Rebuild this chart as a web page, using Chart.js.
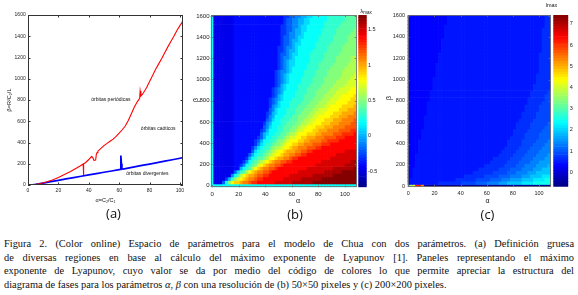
<!DOCTYPE html>
<html lang="es"><head><meta charset="utf-8">
<script src="https://cdn.jsdelivr.net/npm/chart.js@4.4.1/dist/chart.umd.min.js"></script>
<style>
html,body{margin:0;padding:0;background:#fff;}
#fig{position:relative;width:578px;height:295px;overflow:hidden;background:#fff;}
canvas{position:absolute;top:0;}
.t{position:absolute;white-space:nowrap;color:#111;transform:translate(-50%,-50%);font-family:'Liberation Sans','DejaVu Sans',sans-serif;line-height:1;}
.pl{font-family:'Open Sans',sans-serif;font-size:13px;line-height:16px;}
.ax{font-size:7px;}
.cbl{font-size:6px;}
.cbl sub{font-size:4.5px;vertical-align:-1px;}
#cap{position:absolute;left:4px;top:237px;width:570px;font-family:'Liberation Serif',serif;font-size:10.4px;line-height:13.67px;color:#111;}
#cap div{text-align:justify;text-align-last:justify;}
#cap div.last{text-align-last:left;}
</style></head><body>
<div id="fig">
<canvas id="chartA" width="190" height="210" style="left:0px"></canvas>
<canvas id="chartB" width="168" height="210" style="left:190px"></canvas>
<canvas id="barB" width="36" height="210" style="left:356px"></canvas>
<canvas id="chartC" width="172" height="210" style="left:380px"></canvas>
<canvas id="barC" width="27" height="210" style="left:551px"></canvas>
<div class="t pl" style="left:113.5px;top:212.5px">(a)</div>
<div class="t pl" style="left:295px;top:214px">(b)</div>
<div class="t pl" style="left:487.5px;top:213.5px">(c)</div>
<div class="t ax" style="left:298px;top:200px">α</div>
<div class="t ax" style="left:195px;top:100px;transform:translate(-50%,-50%) rotate(-90deg)">β</div>
<div class="t ax" style="left:487.5px;top:200px">α</div>
<div class="t ax" style="left:388px;top:98px;transform:translate(-50%,-50%) rotate(-90deg)">β</div>
<div class="t cbl" style="left:366px;top:12px">λ<sub>max</sub></div>
<div class="t cbl" style="left:551.5px;top:6px;font-size:5.5px">lmax</div>
<div id="cap">
<div>Figura 2. (Color online) Espacio de parámetros para el modelo de Chua con dos parámetros. (a) Definición gruesa</div>
<div>de diversas regiones en base al cálculo del máximo exponente de Lyapunov [1]. Paneles representando el máximo</div>
<div>exponente de Lyapunov, cuyo valor se da por medio del código de colores lo que permite apreciar la estructura del</div>
<div class="last">diagrama de fases para los parámetros <i>α</i>, <i>β</i> con una resolución de (b) 50×50 pixeles y (c) 200×200 pixeles.</div>
</div>
</div>
<script>
// ---------- tick labels ----------
const alphaTicks = [0,20,40,60,80,100];
const betaTicks = [0,200,400,600,800,1000,1200,1400,1600];
const bBarTicks = [-0.5,0,0.5,1,1.5];
const cBarTicks = [0,1,2,3,4,5,6,7];

// ---------- shared grid (50 x 50) ----------
const gridAlpha = [0,2.2,4.4,6.6,8.8,11,13.2,15.4,17.6,19.8,22,24.2,26.4,28.6,30.8,33,35.2,37.4,39.6,41.8,44,46.2,48.4,50.6,52.8,55,57.2,59.4,61.6,63.8,66,68.2,70.4,72.6,74.8,77,79.2,81.4,83.6,85.8,88,90.2,92.4,94.6,96.8,99,101.2,103.4,105.6,107.8];
const gridBeta = [0,32.7,65.3,98,130.6,163.3,195.9,228.6,261.2,293.9,326.5,359.2,391.8,424.5,457.1,489.8,522.4,555.1,587.8,620.4,653.1,685.7,718.4,751,783.7,816.3,849,881.6,914.3,946.9,979.6,1012.2,1044.9,1077.6,1110.2,1142.9,1175.5,1208.2,1240.8,1273.5,1306.1,1338.8,1371.4,1404.1,1436.7,1469.4,1502,1534.7,1567.3,1600];

// ---------- panel (a) ----------
const redAlpha = [2,4,6,8,10,12,14,16,18,20,22,24,26,28,30,32,34,36.3,36.5,36.7,38,40,41.8,42.5,43.4,44.5,45,45.5,46,48,50,52,54,56,58,60,62,64,66,68,70,72,73.5,73.8,74.3,75,76,78,80,82,84,86,88,90,92,94,96,98,100,102];
const redBeta = [0,3,8,14,21,29,38,47,58,70,84,98,113,128,144,160,177,198,95,200,212,240,268,262,232,235,290,305,318,345,370,392,412,432,458,488,520,555,608,670,735,785,815,885,838,848,868,915,975,1030,1090,1140,1190,1245,1300,1350,1400,1455,1500,1545];
const blueAlpha = [2,5,10,15,20,25,30,35,40,45,50,55,60,60.8,61.1,61.5,61.8,62.5,65,70,75,80,85,90,95,100,102];
const blueBeta = [0,6,18,31,44,57,69,82,95,107,120,132,145,147,278,200,152,150,157,170,184,197,210,224,238,252,258];
const noteText = ['órbitas periódicas','órbitas caóticos','órbitas divergentes'];
const noteAlpha = [54.5,85.7,78.6];
const noteBeta = [803,530,105];

// ---------- panel (b): lambda_max, 50x50, run-length rows from beta=0 upward ----------
const bKeys = 'cdefghijklmnopqrstuvwxy';
const bVals = [-0.47,-0.4,-0.3,-0.2,-0.1,0,0.1,0.2,0.3,0.4,0.5,0.6,0.7,0.8,0.9,1.0,1.1,1.2,1.3,1.4,1.5,1.6,1.7];
const bRange = [-0.73,1.71];
const bRows = [
'j50',
'j1c3f1j1m1p1q2r1s2t1u2v6w6x7y15',
'j1c4e1h1k1m1o1p1q1r1s2t1u2v7w6x7y12',
'j1c6g1j1l1n1p1q1r2s1t2u2v7w8x7y8',
'j1c7f1i1k1l1n1p1q1r1s2t2u1v9w9x6y5',
'j1c7d2h1j1k1l1n1p1q1r1s2t2u1v10w9x7y1',
'j1c7d2e1g1j1k1l1m1o1p1q1r1s2t2u1v11w10x4',
'j1c7d3e1g1j1k1l1m1n1o1p1q1r1s2t2u2v10w10x2',
'j1c7d4e1h1j1k1l2m1n1p2q1r2s2t1u2v11w9',
'j1c7d5f1h1j1k2l1m1n1o1p2q1r2s2t2u2v10w7',
'j1c7d6f1i1j1k2l1m1n1o1p2q1r3s2t2u2v11w4',
'j1c7d6e1g1i1j1k2l1m1n2o1p2q1r2s3t3u2v12',
'j1c7d7e1g1i1j1k2l1m2n1o1p2q2r2s3t3u3v9',
'j1c7d7e1f1h1j2k2l1m2n1o1p3q2r2s4t2u4v6',
'j1c7d8e1f1h1j2k2l2m1n1o2p2q2r3s3t4u3v4',
'j1c7d9f1h1i1j2k2l2m1n2o1p3q3r2s4t3u4v1',
'j1c7d9e1f1h1j3k2l2m2n1o2p3q2r3s4t4u2',
'j1c7d10f1g1i1j2k2l3m2n1o2p3q3r3s4t4',
'j1c7d10e1g1h1j3k2l3m2n2o2p3q3r3s4t2',
'j1c7d11f1g1i1j2k3l3m2n2o2p3q3r3s4t1',
'j1c7d11e1g1h1j3k3l2m3n2o2p4q3r3s3',
'j1c7d11e1f1h1i1j3k3l2m3n2o3p3q3r4s1',
'j1c7d12f1g1i1j3k3l3m3n2o3p4q3r3',
'j1c7d12e1g1h1i1j3k3l3m3n3o2p4q4r1',
'j1c7d12e1f1g1i1j3k4l3m3n3o3p4q3',
'j1c7d12e1f1g1h1i1j3k4l3m3n3o3p4q2',
'j1c7d13e1f1h1i1j4k3l4m3n3o3p4q1',
'j1c7d13e1f1g1h1j4k4l3m4n3o4p3',
'j1c7d13e1f1g1h1i1j4k3l4m4n3o4p2',
'j1c7d14e1f1h1i1j4k4l4m4n4o4',
'j1c7d14e1f1g1h1i1j4k4l4m4n4o3',
'j1c7d14e1f1g1h1i1j4k4l4m5n4o2',
'j1c7d14e1f1g1h1i1j5k4l4m5n4o1',
'j1c7d14e1f1g2h1i1j4k4l4m5n5',
'j1c7d15e1f1g1h1i1j5k4l4m5n4',
'j1c7d15e1f1g1h1i2j4k4l5m5n3',
'j1c7d15e1f1g1h1i2j5k4l5m5n2',
'j1c7d15e1f1g2h1i1j5k5l4m5n2',
'j1c7d15e1f2g1h1i2j4k5l5m6',
'j1c7d15e2f1g1h2i1j5k5l5m5',
'j1c7d15e2f1g2h1i1j6k4l5m5',
'j1c7d16e1f2g1h1i2j5k5l5m4',
'j1c7d16e1f2g1h2i1j6k5l5m3',
'j1c7d16e1f2g2h1i2j5k5l5m3',
'j1c7d16e2f1g2h2i1j6k5l5m2',
'j1c7d16e2f2g1h2i2j5k5l6m1',
'j1c7d16e2f2g2h1i2j6k5l6',
'j1c7d17e1f2g2h2i2j5k6l5',
'j1c7d17e1f2g2h2i2j6k6l4',
'j1c7d17e2f2g2h2i2j5k6l4'
];

// ---------- panel (c): lmax, run-length rows from beta=0 upward ----------
const cKeys = 'zcdefghijklnpqr';
const cVals = [-0.5,0.35,0.5,0.7,0.9,1.1,1.35,1.6,1.9,2.2,2.5,3.5,4.2,5.2,6.3];
const cRange = [-0.68,7.42];
const cRows = [
'k1n1p1r2q1z44',
'c1d10e8f5g4h4i3j5k4l6',
'c1d16e7f5g4h3i4j4k4l2',
'c2d18e7f5g4h4i3j4k3',
'c2d21e7f5g3h4i3j5',
'c2d23e7f4g4h4i3j3',
'c3d24e7f4g3h4i4j1',
'c3d26e6f4g4h3i4',
'c3d27e6f4g4h4i2',
'c3d29e5f4g4h4i1',
'c4d29e5f4g4h4',
'c4d30e5f4g4h3',
'c4d31e5f4g4h2',
'c4d31e5f5g4h1',
'c5d31e5f5g4',
'c5d32e4f5g4',
'c5d32e5f5g3',
'c6d32e5f5g2',
'c6d32e5f6g1',
'c6d33e5f6',
'c6d34e5f5',
'c7d33e5f5',
'c7d34e5f4',
'c7d34e5f4',
'c7d35e5f3',
'c8d34e6f2',
'c8d35e5f2',
'c8d35e6f1',
'c9d35e6',
'c9d35e6',
'c9d36e5',
'c9d36e5',
'c10d35e5',
'c10d36e4',
'c10d36e4',
'c10d36e4',
'c11d35e4',
'c11d35e4',
'c11d35e4',
'c12d35e3',
'c12d35e3',
'c12d35e3',
'c12d35e3',
'c13d34e3',
'c13d34e3',
'c13d34e3',
'c13d35e2',
'c14d34e2',
'c14d34e2',
'c14d34e2'
];

// ---------- helpers ----------
const SANS = "'Liberation Sans','DejaVu Sans',Arial,sans-serif";
Chart.defaults.font.family = SANS;
Chart.defaults.color = '#222';
Chart.defaults.animation = false;

function jet(t){
  t = Math.max(0, Math.min(1, t));
  const f = x => Math.max(0, Math.min(1, x));
  const r = f(1.5 - Math.abs(4*t - 3)), g = f(1.5 - Math.abs(4*t - 2)), b = f(1.5 - Math.abs(4*t - 1));
  return 'rgb(' + Math.round(r*255) + ',' + Math.round(g*255) + ',' + Math.round(b*255) + ')';
}
function decodeRow(s){
  const out = [];
  s.replace(/([a-z])(\d+)/g, (m, ch, n) => { for (let k = 0; k < +n; k++) out.push(ch); return m; });
  return out;
}
function heat(rows, keys, vals, range){
  const pts = [], cols = [];
  const half = (gridBeta[gridBeta.length-1] - gridBeta[0]) / (gridBeta.length - 1) / 2 * 1.01;
  rows.forEach((s, i) => decodeRow(s).forEach((ch, j) => {
    const v = vals[keys.indexOf(ch)];
    pts.push({x: gridAlpha[j], y: [gridBeta[i] - half, gridBeta[i] + half]});
    cols.push(jet((v - range[0]) / (range[1] - range[0])));
  }));
  return {pts, cols};
}
const fixTicks = list => (s => { s.ticks = list.map(v => ({value: v})); });
const plain = v => String(v);
const NOGRID = { display: false, drawTicks: false, tickLength: 0 };

const frame = {
  id: 'frame',
  afterDatasetsDraw(chart, args, o){
    const {ctx, chartArea: a} = chart; const sx = chart.scales.x, sy = chart.scales.y;
    ctx.save(); ctx.strokeStyle = o.color; ctx.lineWidth = o.width; ctx.beginPath();
    sx.ticks.forEach(t => { const p = Math.round(sx.getPixelForValue(t.value)) + 0.5;
      ctx.moveTo(p, a.bottom); ctx.lineTo(p, a.bottom - o.tick); ctx.moveTo(p, a.top); ctx.lineTo(p, a.top + o.tick); });
    sy.ticks.forEach(t => { const p = Math.round(sy.getPixelForValue(t.value)) + 0.5;
      ctx.moveTo(a.left, p); ctx.lineTo(a.left + o.tick, p); ctx.moveTo(a.right, p); ctx.lineTo(a.right - o.tick, p); });
    ctx.stroke();
    ctx.strokeRect(Math.round(a.left) + 0.5, Math.round(a.top) + 0.5, Math.round(a.right) - Math.round(a.left) - 1, Math.round(a.bottom) - Math.round(a.top) - 1);
    ctx.restore();
  }
};
const notes = {
  id: 'notes',
  afterDatasetsDraw(chart, args, o){
    const {ctx} = chart; ctx.save();
    ctx.font = o.size + 'px ' + SANS; ctx.fillStyle = o.color; ctx.textAlign = 'center'; ctx.textBaseline = 'middle';
    noteText.forEach((t, k) => ctx.fillText(t, chart.scales.x.getPixelForValue(noteAlpha[k]), chart.scales.y.getPixelForValue(noteBeta[k])));
    ctx.restore();
  }
};

// ---------- chart (a) ----------
new Chart(document.getElementById('chartA'), {
  type: 'scatter',
  data: { datasets: [
    { data: redAlpha.map((x, k) => ({x, y: redBeta[k]})), showLine: true, borderColor: '#ff0000', borderWidth: 1.1, pointRadius: 0, fill: false },
    { data: blueAlpha.map((x, k) => ({x, y: blueBeta[k]})), showLine: true, borderColor: '#0000ff', borderWidth: 1.7, pointRadius: 0, fill: false }
  ]},
  options: {
    responsive: false, animation: false, events: [],
    layout: { padding: { left: 0, top: 15, right: 7, bottom: 0 } },
    plugins: { legend: { display: false }, tooltip: { enabled: false },
      frame: { color: '#333', width: 1, tick: 2.5 }, notes: { size: 5, color: '#111' } },
    scales: {
      x: { type: 'linear', min: 0, max: 102, grid: NOGRID, border: { display: false },
        afterBuildTicks: fixTicks(alphaTicks),
        ticks: { autoSkip: false, maxRotation: 0, font: { size: 5 }, padding: 2.5, callback: plain },
        title: { display: true, text: 'α=C₂/C₁', font: { size: 5.5 }, color: '#111', padding: { top: 0, bottom: 6.2 } },
        afterFit: s => { s.height = 25; } },
      y: { type: 'linear', min: 0, max: 1600, grid: NOGRID, border: { display: false },
        afterBuildTicks: fixTicks(betaTicks),
        ticks: { autoSkip: false, font: { size: 5 }, padding: 2.3, callback: plain },
        title: { display: true, text: 'β=R²C₂/L', font: { size: 5.5 }, color: '#111', padding: { top: 6.2, bottom: 0 } },
        afterFit: s => { s.width = 28; } }
    }
  },
  plugins: [frame, notes]
});

// ---------- heat maps ----------
function heatChart(id, d, o){
  return new Chart(document.getElementById(id), {
    type: 'bar',
    data: { datasets: [{ data: d.pts, backgroundColor: d.cols, borderWidth: 0, barPercentage: 1, categoryPercentage: 1 }] },
    options: {
      responsive: false, animation: false, events: [],
      layout: { padding: { left: 0, top: 15, right: o.padR, bottom: 0 } },
      plugins: { legend: { display: false }, tooltip: { enabled: false }, frame: { color: 'rgba(110,110,110,0.85)', width: 1, tick: 2 } },
      scales: {
        x: { type: 'linear', min: o.xMin, max: o.xMax, offset: false, grid: NOGRID, border: { display: false },
          afterBuildTicks: fixTicks(alphaTicks),
          ticks: { autoSkip: false, maxRotation: 0, font: { size: o.fs }, padding: o.xPad, callback: plain },
          afterFit: s => { s.height = o.xH; } },
        y: { type: 'linear', min: o.yMin, max: o.yMax, grid: NOGRID, border: { display: false },
          afterBuildTicks: fixTicks(betaTicks),
          ticks: { autoSkip: false, font: { size: o.fs }, padding: o.yPad, callback: plain },
          afterFit: s => { s.width = o.yW; } }
      }
    },
    plugins: [frame]
  });
}
function colorBar(id, range, tickList, o){
  const n = 64, segs = [], cols = [];
  for (let k = 0; k < n; k++) {
    segs.push({ x: 'cb', y: [range[0] + (range[1]-range[0]) * k / n, range[0] + (range[1]-range[0]) * (k+1) / n] });
    cols.push(jet((k + 0.5) / n));
  }
  return new Chart(document.getElementById(id), {
    type: 'bar',
    data: { labels: ['cb'], datasets: [{ data: segs, backgroundColor: cols, borderWidth: 0, barPercentage: 1, categoryPercentage: 1 }] },
    options: {
      responsive: false, animation: false, events: [],
      layout: { padding: { left: o.padL, top: 15, right: 0, bottom: o.padB } },
      plugins: { legend: { display: false }, tooltip: { enabled: false } },
      scales: {
        x: { display: false },
        y: { position: 'right', min: range[0], max: range[1], grid: NOGRID, border: { display: false },
          afterBuildTicks: fixTicks(tickList),
          ticks: { autoSkip: false, font: { size: o.fs }, padding: o.pad, callback: plain },
          afterFit: s => { s.width = o.w; } }
      }
    }
  });
}

heatChart('chartB', heat(bRows, bKeys, bVals, bRange), { xMin: -1.1, xMax: 108.9, yMin: -16.3, yMax: 1608, padR: 1.3, yW: 20.7, xH: 22.7, fs: 6, xPad: 3.5, yPad: 1.2 });
colorBar('barB', bRange, bBarTicks, { padL: 2.3, padB: 22.7, w: 25.3, fs: 5.5, pad: 1.2 });
heatChart('chartC', heat(cRows, cKeys, cVals, cRange), { xMin: -0.5, xMax: 108.9, yMin: -4, yMax: 1606, padR: 1.3, yW: 27.7, xH: 23.3, fs: 5.5, xPad: 3, yPad: 2.7 });
colorBar('barC', cRange, cBarTicks, { padL: 2.3, padB: 23.3, w: 9.7, fs: 5.5, pad: 1.5 });
</script>
</body></html>
